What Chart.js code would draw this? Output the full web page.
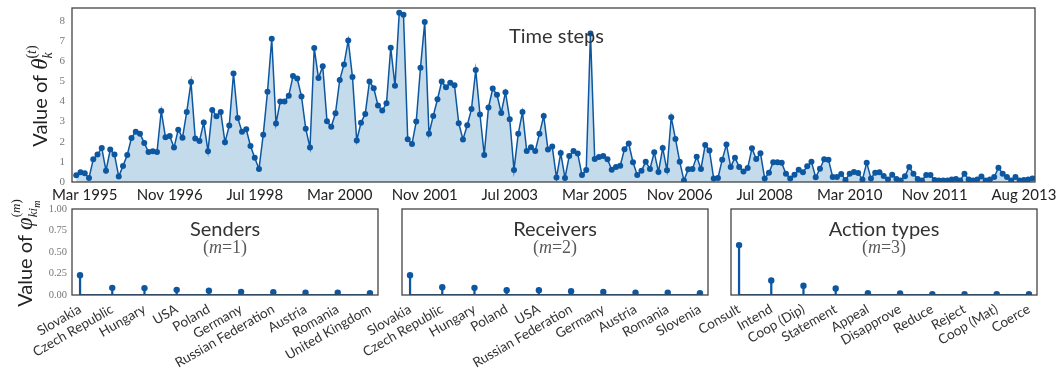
<!DOCTYPE html>
<html>
<head>
<meta charset="utf-8">
<script src="https://cdn.jsdelivr.net/npm/chart.js@4.4.0/dist/chart.umd.min.js"></script>
<style>
  html, body { margin: 0; padding: 0; background: #fff; }
  #wrap { position: relative; width: 1060px; height: 375px; overflow: hidden; }
  canvas { position: absolute; }
</style>
</head>
<body>
<div id="wrap">
  <canvas id="timeChart" width="1060" height="205" style="left:0;top:0"></canvas>
  <canvas id="senderChart" width="390" height="185" style="left:0;top:190px"></canvas>
  <canvas id="receiverChart" width="390" height="185" style="left:330px;top:190px"></canvas>
  <canvas id="actionChart" width="400" height="185" style="left:660px;top:190px"></canvas>
</div>
<script>
// Monthly component strength, Jan 1995 .. Oct 2013
const timeValues = [
  0.33,0.48,0.43,0.2,1.13,1.36,1.69,0.56,1.61,1.36,0.27,0.8,1.34,2.19,2.5,2.4,1.94,1.49,1.53,1.49,
  3.53,2.22,2.29,1.71,2.6,2.2,3.48,4.96,2.16,2.04,2.95,1.53,3.58,3.27,3.47,1.97,2.8,5.39,
  3.18,2.5,2.62,1.79,1.21,0.65,2.35,4.48,7.11,2.9,4.0,4.0,4.28,5.26,5.14,4.25,2.65,1.71,6.65,5.16,
  5.75,3.02,2.74,3.42,5.07,5.84,7.03,5.21,2.06,2.94,3.38,4.99,4.66,3.8,3.55,3.91,6.67,4.78,
  8.4,8.3,2.12,1.89,3.0,5.67,7.94,2.39,3.28,4.11,4.99,4.71,4.93,4.81,2.92,2.11,2.82,3.62,5.56,3.35,
  1.34,3.7,4.64,4.33,3.43,4.46,3.12,0.6,2.39,3.48,1.54,1.72,1.54,2.4,3.28,1.61,1.76,0.22,
  1.44,0.2,1.29,1.54,1.41,0.35,0.6,7.38,1.14,1.24,1.29,1.13,0.61,0.75,0.81,1.63,1.91,0.98,0.35,0.56,
  1.01,0.65,1.48,0.5,1.69,0.58,3.22,2.14,1.01,0.07,0.63,0.65,1.26,0.65,1.84,1.56,0.17,
  0.2,1.11,1.86,0.75,1.21,0.75,0.52,0.7,1.67,1.14,1.43,0.17,0.46,0.98,0.98,0.95,0.41,0.18,0.36,0.61,
  0.48,0.78,1.0,0.23,0.66,1.13,1.11,0.25,0.25,0.4,0.1,0.41,0.5,0.45,0.12,0.96,0.18,0.46,
  0.48,0.3,0.13,0.36,0.15,0.08,0.28,0.75,0.41,0.15,0.08,0.35,0.35,0.1,0.08,0.08,0.08,0.12,0.15,0.08,
  0.41,0.12,0.08,0.13,0.27,0.08,0.13,0.25,0.71,0.41,0.25,0.08,0.25,0.08,0.1,0.13,0.18
];
const timeTickIndex = [2, 22, 42, 62, 82, 102, 122, 142, 162, 182, 202, 223];
const timeTickLabels = ["Mar 1995","Nov 1996","Jul 1998","Mar 2000","Nov 2001","Jul 2003",
                        "Mar 2005","Nov 2006","Jul 2008","Mar 2010","Nov 2011","Aug 2013"];
const timeYTicks = [0, 1, 2, 3, 4, 5, 6, 7, 8];

const senderNames = ["Slovakia","Czech Republic","Hungary","USA","Poland","Germany",
                     "Russian Federation","Austria","Romania","United Kingdom"];
const senderValues = [0.23, 0.083, 0.08, 0.06, 0.05, 0.035, 0.032, 0.027, 0.026, 0.022];

const receiverNames = ["Slovakia","Czech Republic","Hungary","Poland","USA","Russian Federation",
                       "Germany","Austria","Romania","Slovenia"];
const receiverValues = [0.23, 0.09, 0.083, 0.055, 0.055, 0.045, 0.035, 0.027, 0.026, 0.02];

const actionNames = ["Consult","Intend","Coop (Dip)","Statement","Appeal","Disapprove",
                     "Reduce","Reject","Coop (Mat)","Coerce"];
const actionValues = [0.58, 0.17, 0.107, 0.075, 0.02, 0.017, 0.01, 0.01, 0.01, 0.01];

const stemYTicks = [0, 0.25, 0.5, 0.75, 1.0];

const LINE = '#0d57a1';
const FILL = '#c4dbec';
const SANS = 'Lato, "DejaVu Sans", sans-serif';
const SERIF = '"Liberation Serif", "DejaVu Serif", serif';

// Lay out text runs (with super/subscripts) along one line
function layoutRuns(ctx, runs) {
  let maxX = 0, pe = 0, anchor = 0;
  const out = [];
  for (const r of runs) {
    ctx.font = r.f;
    const w = ctx.measureText(r.t).width;
    const s = r.at === 'anchor' ? anchor : r.at === 'prevEnd' ? pe : maxX;
    if (r.mark) anchor = s;
    out.push({ t: r.t, f: r.f, dy: r.dy || 0, x: s });
    pe = s + w;
    maxX = Math.max(maxX, pe);
  }
  return { runs: out, width: maxX };
}
function drawRuns(ctx, runs, x, y, color, rotate) {
  const lay = layoutRuns(ctx, runs);
  ctx.save();
  ctx.translate(x, y);
  if (rotate) ctx.rotate(-Math.PI / 2);
  ctx.fillStyle = color;
  ctx.textAlign = 'left';
  ctx.textBaseline = 'alphabetic';
  for (const r of lay.runs) {
    ctx.font = r.f;
    ctx.fillText(r.t, r.x - lay.width / 2, r.dy);
  }
  ctx.restore();
}

// Keep the plot frame exactly where the layout padding puts it
function noScalePadding(s) {
  s.paddingTop = 0; s.paddingBottom = 0; s.paddingLeft = 0; s.paddingRight = 0;
}

const panelDecor = {
  id: 'panelDecor',
  afterDraw(chart, args, o) {
    const ctx = chart.ctx, a = chart.chartArea;
    ctx.save();
    ctx.strokeStyle = '#444';
    ctx.lineWidth = 1.3;
    ctx.strokeRect(a.left, a.top, a.right - a.left, a.bottom - a.top);
    if (o.title) {
      const cx = (a.left + a.right) / 2 + (o.dx || 0);
      ctx.fillStyle = '#333';
      ctx.font = '20px ' + SANS;
      ctx.textAlign = 'center';
      ctx.textBaseline = 'middle';
      ctx.fillText(o.title, cx, a.top + o.titleDy);
      if (o.m) {
        drawRuns(ctx, [
          { t: '(', f: '18px ' + SERIF },
          { t: 'm', f: 'italic 18px ' + SERIF },
          { t: '=' + o.m + ')', f: '18px ' + SERIF }
        ], cx, a.top + 44, '#5a5a5a', false);
      }
    }
    if (o.ylabel) {
      drawRuns(ctx, o.ylabel.runs, o.ylabel.x, o.ylabel.cy, '#222', true);
    }
    ctx.restore();
  }
};

// Top panel: time series with filled area
new Chart(document.getElementById('timeChart'), {
  type: 'line',
  data: {
    datasets: [{
      data: timeValues.map((v, i) => ({ x: i, y: v })),
      borderColor: LINE,
      backgroundColor: FILL,
      fill: 'origin',
      borderWidth: 1.5,
      tension: 0,
      pointRadius: 3,
      pointBackgroundColor: LINE,
      pointBorderWidth: 0
    }]
  },
  options: {
    responsive: false,
    animation: false,
    events: [],
    layout: { padding: { left: 0, right: 25, top: 8, bottom: 0 } },
    plugins: {
      legend: { display: false },
      tooltip: { enabled: false },
      panelDecor: {
        title: 'Time steps', titleDy: 29, dx: 3,
        ylabel: {
          x: 47, cy: 96,
          runs: [
            { t: 'Value of ', f: '20px ' + SANS },
            { t: 'θ', f: 'italic 23px ' + SERIF },
            { t: '(', f: '14px ' + SERIF, dy: -11, mark: true },
            { t: 't', f: 'italic 14px ' + SERIF, dy: -11 },
            { t: ')', f: '14px ' + SERIF, dy: -11 },
            { t: 'k', f: 'italic 14px ' + SERIF, dy: 5, at: 'anchor' }
          ]
        }
      }
    },
    scales: {
      x: {
        type: 'linear', min: -1, max: 225.6,
        grid: { display: false, drawTicks: false },
        border: { display: false },
        afterBuildTicks: s => { s.ticks = timeTickIndex.map(v => ({ value: v })); },
        ticks: {
          callback: (v, i) => timeTickLabels[i],
          autoSkip: false, maxRotation: 0, minRotation: 0,
          padding: 4, color: '#222', font: { family: SANS, size: 15 }
        },
        afterFit: s => { s.height = 23; noScalePadding(s); }
      },
      y: {
        min: 0, max: 8.64,
        grid: { display: false, drawTicks: false },
        border: { display: false },
        afterBuildTicks: s => { s.ticks = timeYTicks.map(v => ({ value: v })); },
        ticks: { padding: 7, color: '#777', font: { family: SERIF, size: 11 } },
        afterFit: s => { s.width = 72; noScalePadding(s); }
      }
    }
  },
  plugins: [panelDecor]
});

// Bottom panels: stem plots of the factor loadings
function stemPanel(id, names, values, cfg) {
  const pts = values.map((v, i) => ({ x: i, y: v }));
  new Chart(document.getElementById(id), {
    type: 'bar',
    data: {
      datasets: [
        { type: 'line', data: [{ x: 0, y: 0 }, { x: names.length - 1, y: 0 }],
          borderColor: LINE, borderWidth: 2, pointRadius: 0, order: 3 },
        { type: 'bar', data: pts, backgroundColor: LINE, barThickness: 1.6,
          borderWidth: 0, order: 2 },
        { type: 'line', data: pts, showLine: false, pointRadius: 3.2,
          pointBackgroundColor: LINE, pointBorderWidth: 0, order: 1 }
      ]
    },
    options: {
      responsive: false,
      animation: false,
      events: [],
      layout: { padding: { left: 0, right: cfg.padRight, top: 19, bottom: 0 } },
      plugins: {
        legend: { display: false },
        tooltip: { enabled: false },
        panelDecor: { title: cfg.title, m: cfg.m, titleDy: 21, ylabel: cfg.ylabel }
      },
      scales: {
        x: {
          type: 'linear', min: -0.25, max: names.length - 0.75, offset: false,
          grid: { display: false, drawTicks: false, offset: false },
          border: { display: false },
          afterBuildTicks: s => { s.ticks = names.map((n, i) => ({ value: i })); },
          ticks: {
            callback: (v, i) => names[i],
            autoSkip: false, minRotation: 30, maxRotation: 30,
            padding: 6, color: '#333', font: { family: SANS, size: 13.5 }
          },
          afterFit: s => { s.height = 80; noScalePadding(s); }
        },
        y: {
          min: 0, max: 1,
          grid: { display: false, drawTicks: false },
          border: { display: false },
          afterBuildTicks: s => { s.ticks = stemYTicks.map(v => ({ value: v })); },
          ticks: {
            display: cfg.showY, padding: 5, color: '#777',
            font: { family: SERIF, size: 10.5 },
            callback: v => v.toFixed(2)
          },
          afterFit: s => { s.width = cfg.yWidth; noScalePadding(s); }
        }
      }
    },
    plugins: [panelDecor]
  });
}

stemPanel('senderChart', senderNames, senderValues, {
  title: 'Senders', m: 1, showY: true, yWidth: 72, padRight: 12,
  ylabel: {
    x: 32, cy: 63,
    runs: [
      { t: 'Value of ', f: '20px ' + SANS },
      { t: 'φ', f: 'italic 23px ' + SERIF },
      { t: '(', f: '13px ' + SERIF, dy: -12, mark: true },
      { t: 'm', f: 'italic 13px ' + SERIF, dy: -12 },
      { t: ')', f: '13px ' + SERIF, dy: -12 },
      { t: 'ki', f: 'italic 13px ' + SERIF, dy: 5, at: 'anchor' },
      { t: 'm', f: 'italic 10px ' + SERIF, dy: 8, at: 'prevEnd' }
    ]
  }
});
stemPanel('receiverChart', receiverNames, receiverValues, {
  title: 'Receivers', m: 2, showY: false, yWidth: 72, padRight: 12
});
stemPanel('actionChart', actionNames, actionValues, {
  title: 'Action types', m: 3, showY: false, yWidth: 71, padRight: 23
});
</script>
</body>
</html>
